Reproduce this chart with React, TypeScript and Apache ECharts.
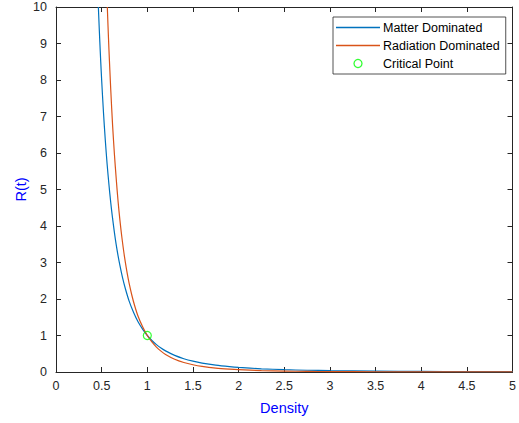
import React, { useEffect, useRef } from "react";
import * as echarts from "echarts";

const xTicks = [0, 0.5, 1, 1.5, 2, 2.5, 3, 3.5, 4, 4.5, 5];
const yTicks = [0, 1, 2, 3, 4, 5, 6, 7, 8, 9, 10];

const matterX = [0.464, 0.47, 0.48, 0.49, 0.5, 0.52, 0.54, 0.56, 0.58, 0.6, 0.62, 0.65, 0.68, 0.7, 0.73, 0.76, 0.8, 0.85, 0.9, 0.95, 1, 1.05, 1.1, 1.15, 1.2, 1.3, 1.4, 1.5, 1.6, 1.75, 1.9, 2, 2.25, 2.5, 2.75, 3, 3.5, 4, 4.5, 5];
const matterY = [10, 9.63, 9.04, 8.5, 8.0, 7.11, 6.35, 5.69, 5.13, 4.63, 4.2, 3.64, 3.18, 2.92, 2.57, 2.28, 1.95, 1.63, 1.37, 1.17, 1.0, 0.864, 0.751, 0.657, 0.579, 0.455, 0.364, 0.296, 0.244, 0.187, 0.146, 0.125, 0.088, 0.064, 0.048, 0.037, 0.023, 0.016, 0.011, 0.008];

const radX = [0.562, 0.57, 0.58, 0.59, 0.6, 0.62, 0.64, 0.66, 0.68, 0.7, 0.72, 0.75, 0.78, 0.8, 0.83, 0.86, 0.9, 0.95, 1, 1.05, 1.1, 1.15, 1.2, 1.3, 1.4, 1.5, 1.6, 1.75, 1.9, 2, 2.25, 2.5, 2.75, 3, 3.5, 4, 4.5, 5];
const radY = [10, 9.46, 8.83, 8.26, 7.72, 6.75, 5.96, 5.28, 4.67, 4.16, 3.72, 3.16, 2.7, 2.44, 2.11, 1.83, 1.52, 1.23, 1.0, 0.823, 0.683, 0.572, 0.482, 0.35, 0.26, 0.198, 0.153, 0.107, 0.077, 0.0625, 0.039, 0.026, 0.017, 0.012, 0.007, 0.004, 0.002, 0.0016];

const criticalX = [1];
const criticalY = [1];

const names = ["Matter Dominated", "Radiation Dominated", "Critical Point"];

export default function App() {
  const ref = useRef<HTMLDivElement>(null);
  useEffect(() => {
    if (!ref.current) return;
    const chart = echarts.init(ref.current, undefined, { renderer: "svg" });
    const axisColor = "#262626";
    const font = "Liberation Sans, Arial, sans-serif";
    const matter = matterX.map((x, i) => [x, matterY[i]]);
    const rad = radX.map((x, i) => [x, radY[i]]);
    const crit = criticalX.map((x, i) => [x, criticalY[i]]);
    const tick = { show: true, inside: true, length: 5, lineStyle: { color: axisColor, width: 1 } };
    const line = { show: true, onZero: false, lineStyle: { color: axisColor, width: 1 } };
    const lineIcon = "path://M0,0H44V1.3H0Z";
    chart.setOption({
      animation: false,
      backgroundColor: "#ffffff",
      grid: { left: 56, right: 1, top: 7, bottom: 51, containLabel: false },
      legend: {
        orient: "vertical",
        left: 333,
        top: 17,
        data: [
          { name: names[0], icon: lineIcon },
          { name: names[1], icon: lineIcon },
          { name: names[2], icon: "circle", itemStyle: { color: "transparent", borderColor: "#00ff00", borderWidth: 1.3 } },
        ],
        itemWidth: 44,
        itemHeight: 8,
        itemGap: 5,
        padding: [4, 6, 4, 3],
        borderColor: axisColor,
        borderWidth: 0.8,
        borderRadius: 0,
        backgroundColor: "#ffffff",
        textStyle: { fontSize: 12.5, color: "#000", fontFamily: font, padding: [0, 0, 0, -2] },
      },
      xAxis: [
        {
          type: "value",
          min: 0,
          max: 5,
          interval: 0.5,
          name: "Density",
          nameLocation: "middle",
          nameGap: 28,
          nameMoveOverlap: false,
          nameTextStyle: { color: "#0000ff", fontSize: 14.5, fontFamily: font },
          axisLine: line,
          axisTick: tick,
          axisLabel: {
            color: axisColor,
            fontSize: 12.5,
            fontFamily: font,
            margin: 7,
            formatter: (v: number) => (xTicks.includes(v) ? String(v) : ""),
          },
          splitLine: { show: false },
        },
        {
          type: "value",
          position: "top",
          min: 0,
          max: 5,
          interval: 0.5,
          axisLine: line,
          axisTick: tick,
          axisLabel: { show: false },
          splitLine: { show: false },
        },
      ],
      yAxis: [
        {
          type: "value",
          min: 0,
          max: 10,
          interval: 1,
          name: "R(t)",
          nameLocation: "middle",
          nameGap: 28,
          nameMoveOverlap: false,
          nameTextStyle: { color: "#0000ff", fontSize: 14.5, fontFamily: font },
          axisLine: line,
          axisTick: tick,
          axisLabel: {
            color: axisColor,
            fontSize: 12.5,
            fontFamily: font,
            margin: 9,
            formatter: (v: number) => (yTicks.includes(v) ? String(v) : ""),
          },
          splitLine: { show: false },
        },
        {
          type: "value",
          position: "right",
          min: 0,
          max: 10,
          interval: 1,
          axisLine: line,
          axisTick: tick,
          axisLabel: { show: false },
          splitLine: { show: false },
        },
      ],
      series: [
        {
          name: names[0],
          type: "line",
          data: matter,
          smooth: 0.3,
          showSymbol: false,
          symbol: "none",
          color: "#0072BD",
          lineStyle: { width: 1.2, color: "#0072BD" },
          clip: true,
        },
        {
          name: names[1],
          type: "line",
          data: rad,
          smooth: 0.3,
          showSymbol: false,
          symbol: "none",
          color: "#D95319",
          lineStyle: { width: 1.2, color: "#D95319" },
          clip: true,
        },
        {
          name: names[2],
          type: "scatter",
          data: crit,
          symbol: "circle",
          symbolSize: 8,
          z: 5,
          color: "#00ff00",
          itemStyle: { color: "transparent", borderColor: "#00ff00", borderWidth: 1.2 },
        },
      ],
    });
    return () => chart.dispose();
  }, []);
  return (
    <div
      ref={ref}
      style={{ position: "fixed", left: 0, top: 0, width: 519, height: 423 }}
    />
  );
}
